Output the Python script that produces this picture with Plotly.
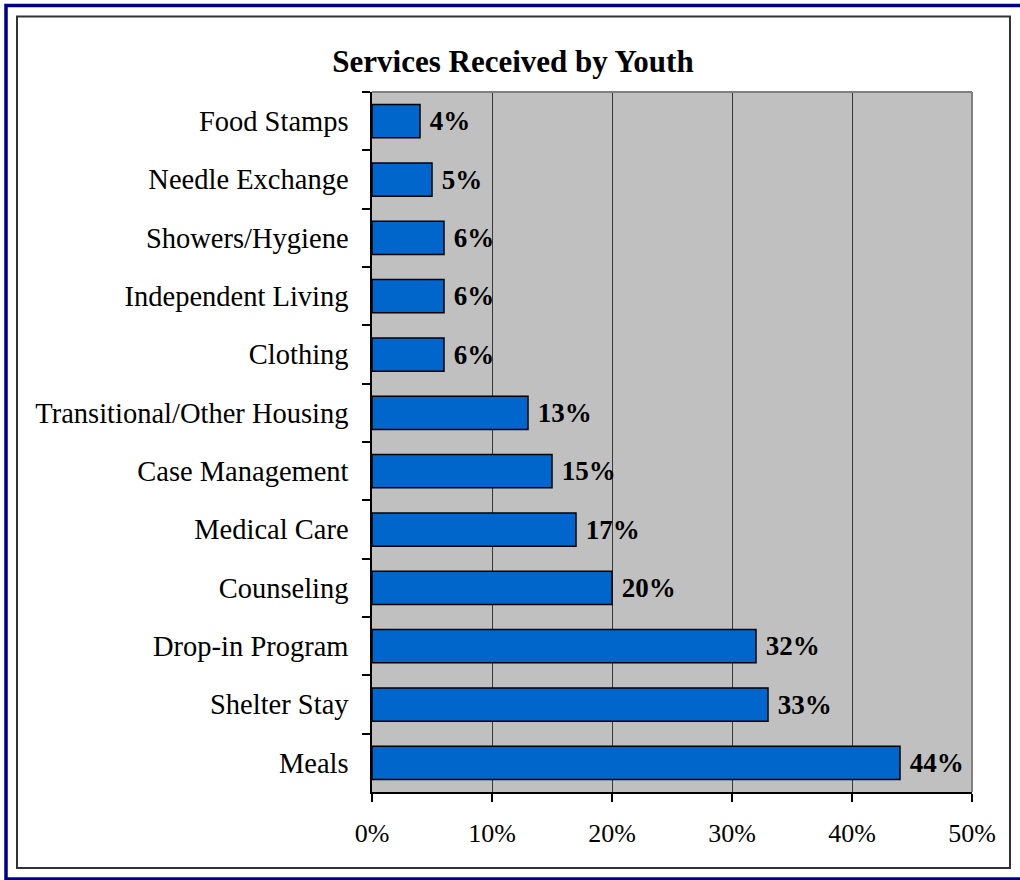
import plotly.graph_objects as go

# categories top to bottom, as shown in the chart
services = ["Food Stamps", "Needle Exchange", "Showers/Hygiene", "Independent Living",
            "Clothing", "Transitional/Other Housing", "Case Management", "Medical Care",
            "Counseling", "Drop-in Program", "Shelter Stay", "Meals"]
pct = [4, 5, 6, 6, 6, 13, 15, 17, 20, 32, 33, 44]
x_ticks = [0, 10, 20, 30, 40, 50]
x_tick_labels = ["0%", "10%", "20%", "30%", "40%", "50%"]

W, H = 1020, 880
L, R, T, B = 372, 48, 92, 88
PW, PH = W - L - R, H - T - B

def px(x):
    return (x - L) / PW

def py(y):
    return (H - B - y) / PH

font = "Liberation Serif, Times New Roman, serif"

fig = go.Figure(go.Bar(
    y=services, x=pct, orientation="h",
    marker=dict(color="#0066CC", line=dict(color="black", width=1.5)),
    text=[f" {v}%" for v in pct], textposition="outside", constraintext="none",
    cliponaxis=False,
    textfont=dict(family=font, size=27, color="black", weight="bold"),
))

fig.update_layout(
    width=W, height=H,
    margin=dict(l=L, r=R, t=T, b=B),
    paper_bgcolor="white", plot_bgcolor="#C0C0C0",
    bargap=0.43, showlegend=False,
    font=dict(family=font, size=26, color="black"),
    title=dict(text="<b>Services Received by Youth</b>", x=513 / W, xref="container",
               xanchor="center", y=1 - 61 / H, yref="container", yanchor="middle",
               font=dict(family=font, size=31, color="black")),
    xaxis=dict(range=[0, 50], tickvals=x_ticks, ticktext=x_tick_labels,
               showgrid=True, gridcolor="#383838", gridwidth=1,
               showline=True, linecolor="black", linewidth=1.5,
               ticks="outside", ticklen=8, tickcolor="black", tickwidth=1.5,
               ticklabelstandoff=9, zeroline=False, fixedrange=True,
               tickfont=dict(size=26)),
    yaxis=dict(autorange="reversed", showline=True, linecolor="black", linewidth=1.5,
               ticks="outside", ticklen=8, tickcolor="black", tickwidth=1.5,
               tickson="boundaries", ticklabelstandoff=16, showgrid=False,
               tickfont=dict(size=28.5)),
    shapes=[
        # plot area border top/right
        dict(type="line", xref="paper", yref="paper", x0=0, x1=1, y0=1, y1=1,
             line=dict(color="#808080", width=2), layer="above"),
        dict(type="line", xref="paper", yref="paper", x0=1, x1=1, y0=0, y1=1,
             line=dict(color="#808080", width=2), layer="above"),
        # inner frame
        dict(type="rect", xref="paper", yref="paper",
             x0=px(17), x1=px(1010), y0=py(868), y1=py(16.5),
             line=dict(color="#333333", width=2)),
        # outer navy border
        dict(type="rect", xref="paper", yref="paper",
             x0=px(6), x1=px(1040), y0=py(879), y1=py(5.5),
             line=dict(color="#000080", width=3.5)),
    ],
)

# drop the page's default body margin so the figure sits at the window's corner
fig.write_html("out.html", config={"displayModeBar": False},
               post_script="document.body.style.margin='0';")
